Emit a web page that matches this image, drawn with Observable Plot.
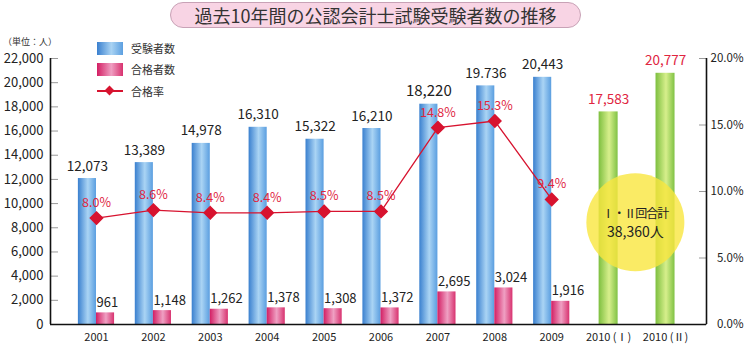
<!DOCTYPE html>
<html><head><meta charset="utf-8">
<script src="https://cdn.jsdelivr.net/npm/d3@7"></script>
<script src="https://cdn.jsdelivr.net/npm/@observablehq/plot@0.6"></script>
<style>
  html,body{margin:0;padding:0;background:#fff;}
  body{position:relative;width:749px;height:344px;overflow:hidden;font-family:"Noto Sans CJK JP","Noto Sans",sans-serif;color:#222;}
  #titlebar{height:34px;position:relative;}
  #title{position:absolute;left:170px;top:2px;width:411px;height:26px;border-radius:14px;background:#f8d4e4;border:1px solid #c8a2b6;box-sizing:border-box;text-align:center;font-size:18px;line-height:24px;color:#333;}
  .abs{position:absolute;}
  .lg{font-size:11px;color:#333;line-height:13px;}
</style></head>
<body>
<div id="titlebar"><div id="title">過去10年間の公認会計士試験受験者数の推移</div></div>
<div id="chart"></div>
<div class="abs" style="left:3px;top:37px;font-size:9px;line-height:10px;color:#333;">（単位：人）</div>
<div class="abs" style="left:97px;top:42px;width:26px;height:13px;background:linear-gradient(to right,#3a80cf,#a9d3f3 55%,#5c9fe0);"></div>
<div class="abs lg" style="left:131px;top:42px;">受験者数</div>
<div class="abs" style="left:97px;top:63px;width:26px;height:13px;background:linear-gradient(to right,#d31e63,#ef9fc2 55%,#d8326f);"></div>
<div class="abs lg" style="left:131px;top:63px;">合格者数</div>
<div class="abs" style="left:97px;top:90px;width:26px;height:1.5px;background:#d7132f;"></div>
<div class="abs" style="left:106px;top:87px;width:7px;height:7px;background:#d7132f;transform:rotate(45deg);"></div>
<div class="abs lg" style="left:131px;top:85px;">合格率</div>
<script>
// ---- data ----
const years = ["2001","2002","2003","2004","2005","2006","2007","2008","2009","2010 (Ⅰ)","2010 (Ⅱ)"];
const applicants = [12073,13389,14978,16310,15322,16210,18220,19736,20443,17583,20777];
const applicantLabels = ["12,073","13,389","14,978","16,310","15,322","16,210","18,220","19.736","20,443","17,583","20,777"];
const passers = [961,1148,1262,1378,1308,1372,2695,3024,1916];
const passerLabels = ["961","1,148","1,262","1,378","1,308","1,372","2,695","3,024","1,916"];
const rates = [8.0,8.6,8.4,8.4,8.5,8.5,14.8,15.3,9.4];
const rateLabels = ["8.0%","8.6%","8.4%","8.4%","8.5%","8.5%","14.8%","15.3%","9.4%"];
const leftTicks = [0,2000,4000,6000,8000,10000,12000,14000,16000,18000,20000,22000];
const rightTicks = [0,5,10,15,20];
const totalNote = ["Ⅰ・Ⅱ回合計","38,360人"];
const totalNoteX = 9.47, totalNoteY = 8450;

// ---- derived tables ----
const RATE_K = 22000 / 20; // right axis (0–20%) shares the left axis range (0–22,000)
const all = years.map((y, i) => ({i, year: y, app: applicants[i], appLabel: applicantLabels[i]}));
const multi = all.slice(0, 9);
const single = all.slice(9);
const pass = passers.map((v, i) => ({i, v, label: passerLabels[i]}));
const rate = rates.map((v, i) => ({i, v: v * RATE_K, label: rateLabels[i]}));

const BW = 0.318, GW = 0.167;
const RED = "#d7132f";
const xDomain = [-0.808, 10.72];

const plot = Plot.plot({
  width: 749, height: 310,
  marginLeft: 50, marginRight: 43, marginTop: 24, marginBottom: 20,
  style: {fontFamily: '"Noto Sans CJK JP","Noto Sans",sans-serif', color: "#222", background: "transparent"},
  x: {domain: xDomain, axis: null},
  y: {domain: [0, 22000], axis: null},
  marks: [
    // left axis ticks (inside) and labels
    Plot.axisY({anchor: "left", ticks: leftTicks, tickSize: 8, dx: 8, stroke: "#999", tickFormat: () => "", label: null}),
    Plot.axisY({anchor: "left", ticks: leftTicks, tickSize: 0, tickPadding: 7, fontSize: 13, fill: "#222", tickFormat: d3.format(","), label: null}),
    // right axis
    Plot.axisY({anchor: "right", ticks: rightTicks.map(d => d * RATE_K), tickSize: 8, dx: -8, stroke: "#999", tickFormat: () => "", label: null}),
    Plot.axisY({anchor: "right", ticks: rightTicks.map(d => d * RATE_K), tickSize: 0, tickPadding: 37, textAnchor: "end", fontSize: 11.5, fill: "#222", tickFormat: d => (d / RATE_K).toFixed(1) + "%", label: null}),
    // x axis labels
    Plot.axisX({ticks: d3.range(years.length), tickSize: 0, tickPadding: 9, fontSize: 11, fill: "#222", tickFormat: i => years[i], label: null}),
    // bars
    Plot.rectY(multi, {x1: d => d.i - BW, x2: d => d.i, y: "app", fill: "url(#gBlue)"}),
    Plot.rectY(pass, {x1: d => d.i, x2: d => d.i + BW, y: "v", fill: "url(#gPink)"}),
    Plot.rectY(single, {x1: d => d.i - GW, x2: d => d.i + GW, y: "app", fill: "url(#gGreen)"}),
    // frame lines
    Plot.ruleX(xDomain, {stroke: "#111", strokeWidth: 1.6}),
    Plot.ruleY([0], {stroke: "#111", strokeWidth: 1.6}),
    // value labels
    Plot.text(multi, {x: d => d.i - BW / 2, y: "app", text: "appLabel", dy: -8, lineAnchor: "bottom", fontSize: d => d.year === "2007" ? 15 : 13.5, fill: "#222"}),
    Plot.text(single, {x: "i", y: "app", text: "appLabel", dy: -8, lineAnchor: "bottom", fontSize: 13.5, fill: "#e0253f"}),
    Plot.text(pass, {x: "i", y: "v", text: "label", dy: -6, lineAnchor: "bottom", textAnchor: "start", fontSize: 13, fill: "#222"}),
    // rate line
    Plot.line(rate, {x: "i", y: "v", stroke: RED, strokeWidth: 1.3}),
    Plot.dot(rate, {x: "i", y: "v", symbol: "diamond2", r: 5.5, fill: RED, stroke: RED}),
    Plot.text(rate, {x: "i", y: "v", text: "label", dy: -11, lineAnchor: "bottom", fontSize: 12.5, fill: "#e0253f"}),
    // total note
    Plot.dot([0], {x: () => totalNoteX, y: () => totalNoteY, r: 49, fill: "#f9e63f", fillOpacity: 0.8}),
    Plot.text([totalNote[0]], {x: () => totalNoteX, y: () => totalNoteY, text: d => d, dy: -8, fontSize: 12, fill: "#222"}),
    Plot.text([totalNote[1]], {x: () => totalNoteX, y: () => totalNoteY, text: d => d, dy: 10, fontSize: 14, fill: "#222"})
  ]
});

// gradients for cylinder-like bars
const ns = "http://www.w3.org/2000/svg";
const defs = document.createElementNS(ns, "defs");
const grads = {
  gBlue: [["0%", "#3a80cf"], ["55%", "#aad4f4"], ["100%", "#5a9ee0"]],
  gPink: [["0%", "#d31e63"], ["55%", "#efa0c3"], ["100%", "#d8326f"]],
  gGreen: [["0%", "#7dbf3f"], ["55%", "#d7ef8c"], ["100%", "#80c244"]]
};
for (const [id, stops] of Object.entries(grads)) {
  const g = document.createElementNS(ns, "linearGradient");
  g.setAttribute("id", id);
  g.setAttribute("x1", "0"); g.setAttribute("x2", "1"); g.setAttribute("y1", "0"); g.setAttribute("y2", "0");
  for (const [o, c] of stops) {
    const s = document.createElementNS(ns, "stop");
    s.setAttribute("offset", o); s.setAttribute("stop-color", c);
    g.appendChild(s);
  }
  defs.appendChild(g);
}
plot.insertBefore(defs, plot.firstChild);
// tighten the full-width glyphs in the note
plot.querySelectorAll("text").forEach(t => { if (t.textContent === totalNote[0]) t.setAttribute("letter-spacing", "-1"); });
document.getElementById("chart").appendChild(plot);
</script>
</body></html>
